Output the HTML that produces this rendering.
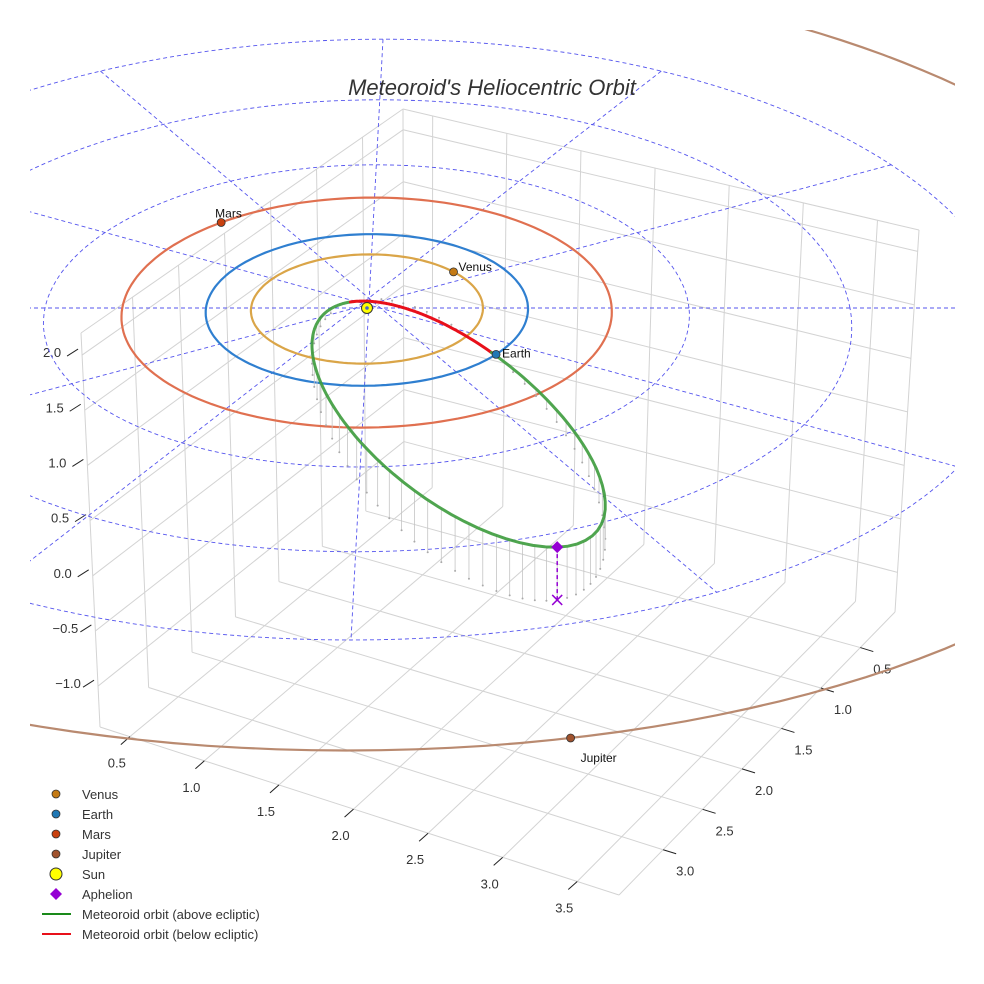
<!DOCTYPE html>
<html><head><meta charset="utf-8"><style>
html,body{margin:0;padding:0;background:#fff;}
svg{display:block;font-family:"Liberation Sans",sans-serif;}
</style></head><body>
<svg id="chart" width="984" height="984" viewBox="0 0 984 984">
<defs><clipPath id="clip"><rect x="30" y="30" width="925" height="954"/></clipPath></defs>
<g id="grid"></g>
<g id="ticks"></g>
<g id="plot" clip-path="url(#clip)"></g>
<text x="492" y="95" text-anchor="middle" font-size="22" font-style="italic" fill="#333">Meteoroid's Heliocentric Orbit</text>
<g id="legend"></g>
</svg>
<script>
// ---- data ----
const xTicks = [0.5, 1.0, 1.5, 2.0, 2.5, 3.0, 3.5];
const yTicks = [0.5, 1.0, 1.5, 2.0, 2.5, 3.0];
const zTicks = [-1.0, -0.5, 0.0, 0.5, 1.0, 1.5, 2.0];
const gridRadii = [1, 2, 3, 4];
const radialAngles = [0, 30, 60, 90, 120, 150];
const planetNames = ["Venus", "Earth", "Mars", "Jupiter"];
const planetRadii = [0.72, 1.0, 1.52, 5.2];
const planetAngles = [42, -37, 130, -77];
const meteoroidPerihelion = [0.12];
const meteoroidAphelion = [3.75];
const orbitPdir = [-0.299, 0.947, -0.128];
const orbitQdir = [0.948, 0.276, -0.170];

const NS = "http://www.w3.org/2000/svg";
function mk(tag, attrs, parent){const e=document.createElementNS(NS,tag);for(const k in attrs)e.setAttribute(k,attrs[k]);if(parent)parent.appendChild(e);return e;}
const gridG=document.getElementById('grid'), tickG=document.getElementById('ticks'), plot=document.getElementById('plot'), legG=document.getElementById('legend');

// ---- box axes (trilinear) ----
const xmin=0.3,xmax=3.78,ymin=0.06,ymax=3.56,zmin=-1.37,zmax=2.2;
const Bf=[404,480],Rf=[895,612],Lf=[100,727],Ff=[619,895];
const Bt=[403,109],Rt=[919,230],Lt=[81,333],Ft=[597,454];
function bil(c00,c10,c01,c11,u,v,i){return c00[i]*(1-u)*(1-v)+c10[i]*u*(1-v)+c01[i]*(1-u)*v+c11[i]*u*v;}
function G(x,y,z){const u=(x-xmin)/(xmax-xmin),v=(y-ymin)/(ymax-ymin),w=(z-zmin)/(zmax-zmin);
 const f=[bil(Bf,Rf,Lf,Ff,u,v,0),bil(Bf,Rf,Lf,Ff,u,v,1)], t=[bil(Bt,Rt,Lt,Ft,u,v,0),bil(Bt,Rt,Lt,Ft,u,v,1)];
 return [f[0]+(t[0]-f[0])*w,f[1]+(t[1]-f[1])*w];}
function gl(a,b,name){const l=mk('line',{x1:a[0],y1:a[1],x2:b[0],y2:b[1],stroke:'#d3d3d3','stroke-width':1},gridG);
 
 }
xTicks.forEach(x=>{gl(G(x,ymin,zmin),G(x,ymax,zmin),'floor-gridline-x');gl(G(x,ymin,zmin),G(x,ymin,zmax),'wall-gridline-x');});
yTicks.forEach(y=>{gl(G(xmin,y,zmin),G(xmax,y,zmin),'floor-gridline-y');gl(G(xmin,y,zmin),G(xmin,y,zmax),'wall-gridline-y');});
zTicks.forEach(z=>{gl(G(xmin,ymin,z),G(xmin,ymax,z),'wall-gridline-z');gl(G(xmin,ymin,z),G(xmax,ymin,z),'wall-gridline-z');});
[[G(xmin,ymax,zmin),G(xmax,ymax,zmin)],[G(xmax,ymax,zmin),G(xmax,ymin,zmin)],[G(xmin,ymin,zmin),G(xmin,ymin,zmax)],
 [G(xmin,ymax,zmin),G(xmin,ymax,zmax)],[G(xmax,ymin,zmin),G(xmax,ymin,zmax)],[G(xmin,ymin,zmax),G(xmin,ymax,zmax)],[G(xmin,ymin,zmax),G(xmax,ymin,zmax)]]
 .forEach(p=>gl(p[0],p[1],'box-edge'));

function tk(p,dx1,dy1,dx2,dy2,lx,ly,txt,name){
 const l=mk('line',{x1:p[0]+dx1,y1:p[1]+dy1,x2:p[0]+dx2,y2:p[1]+dy2,stroke:'#222','stroke-width':1},tickG);
 
 
 const t=mk('text',{x:p[0]+lx,y:p[1]+ly,'text-anchor':'middle','font-size':13,fill:'#333'},tickG);
 t.textContent=txt;
 
 }
xTicks.forEach(x=>tk(G(x,ymax,zmin),0,0,-9,8,-13,31,x.toFixed(1),'x-axis'));
yTicks.forEach(y=>tk(G(xmax,y,zmin),0,0,13,4,22,26,y.toFixed(1),'y-axis'));
zTicks.forEach(z=>tk(G(xmin,ymax,z),-4,-6,-15,1,-30,2,(z<0?'\u2212':'')+Math.abs(z).toFixed(1),'z-axis'));

// ---- ecliptic projection ----
function P(x,y,z){const sx=161-6*y;const off=76*y+(y>0?-2.2:1.75)*y*Math.abs(y);return [367+sx*x+4*y,308-off-110*(z||0)];}
function circlePath(r){let d='';for(let a=0;a<=360;a+=2){const t=a*Math.PI/180;const p=P(r*Math.cos(t),r*Math.sin(t),0);d+=(a?'L':'M')+p[0].toFixed(1)+' '+p[1].toFixed(1);}return d;}

gridRadii.forEach(r=>{const e=mk('path',{d:circlePath(r),fill:'none',stroke:'#5555ee','stroke-width':0.9,'stroke-dasharray':'4,3'},plot);
 
 });
radialAngles.forEach(a=>{const t=a*Math.PI/180;const p1=P(4*Math.cos(t),4*Math.sin(t),0),p2=P(-4*Math.cos(t),-4*Math.sin(t),0);
 const e=mk('line',{x1:p1[0],y1:p1[1],x2:p2[0],y2:p2[1],stroke:'#5555ee','stroke-width':0.9,'stroke-dasharray':'4,3'},plot);
 
 });

const orbitColors=['#daa548','#2f7fd0','#e07050','#b98a70'];
const markColors=['#c47a14','#1f77b4','#c9410f','#a0522d'];
planetNames.forEach((n,i)=>{const e=mk('path',{d:circlePath(planetRadii[i]),fill:'none',stroke:orbitColors[i],'stroke-width':2.2},plot);
 
 });

// ---- meteoroid orbit ----
const qd=meteoroidPerihelion[0],Qd=meteoroidAphelion[0];
const ecc=(Qd-qd)/(Qd+qd), semiLat=2*qd*Qd/(Qd+qd);
function orbitPt(nuDeg){const nu=nuDeg*Math.PI/180;const r=semiLat/(1+ecc*Math.cos(nu));const c=Math.cos(nu),s=Math.sin(nu);
 return [0,1,2].map(i=>r*(c*orbitPdir[i]+s*orbitQdir[i]));}
const samples=[];for(let n=-180;n<=180;n+=1)samples.push(orbitPt(n));
// drop lines sampled uniformly in eccentric anomaly
const NDROP=70;
for(let k=0;k<NDROP;k++){const E=2*Math.PI*k/NDROP;const nu=2*Math.atan(Math.sqrt((1+ecc)/(1-ecc))*Math.tan(E/2))*180/Math.PI;
 const p=orbitPt(nu);const a=P(p[0],p[1],p[2]),b=P(p[0],p[1],0);if(Math.abs(a[1]-b[1])<3)continue;
 const e=mk('line',{x1:a[0],y1:a[1],x2:b[0],y2:b[1],stroke:'#c4c4c4','stroke-width':0.8},plot);
 
 
 const d=mk('circle',{cx:b[0],cy:b[1],r:1,fill:'#aaa'},plot);
 
 }
// segments
let seg=[],cur=null;
samples.forEach(p=>{const up=p[2]>=0;if(cur===null||cur.up!==up){if(cur)cur.pts.push(p);cur={up,pts:cur?[cur.pts[cur.pts.length-1]]:[]};seg.push(cur);}cur.pts.push(p);});
seg.forEach(sg=>{const d=sg.pts.map((p,i)=>{const s=P(p[0],p[1],p[2]);return (i?'L':'M')+s[0].toFixed(1)+' '+s[1].toFixed(1);}).join('');
 const e=mk('path',{d,fill:'none',stroke:sg.up?'#3c9b3c':'#e8101a','stroke-width':3,'stroke-linecap':'round','stroke-opacity':sg.up?0.9:1},plot);
 
 });

// aphelion
const ap=orbitPt(180),apS=P(ap[0],ap[1],ap[2]),apE=P(ap[0],ap[1],0);
const al=mk('line',{x1:apS[0],y1:apS[1],x2:apE[0],y2:apE[1],stroke:'#9400d3','stroke-width':1.5,'stroke-dasharray':'4,3'},plot);


const ax=mk('path',{d:`M${apE[0]-5} ${apE[1]-5}L${apE[0]+5} ${apE[1]+5}M${apE[0]-5} ${apE[1]+5}L${apE[0]+5} ${apE[1]-5}`,stroke:'#9400d3','stroke-width':1.5},plot);


const ad=mk('path',{d:`M${apS[0]} ${apS[1]-6}L${apS[0]+6} ${apS[1]}L${apS[0]} ${apS[1]+6}L${apS[0]-6} ${apS[1]}Z`,fill:'#9400d3'},plot);



// planets
const labOff=[[5,-1],[6,3],[-6,-5],[10,24]];
planetNames.forEach((n,i)=>{const t=planetAngles[i]*Math.PI/180;const p=P(planetRadii[i]*Math.cos(t),planetRadii[i]*Math.sin(t),0);
 const c=mk('circle',{cx:p[0],cy:p[1],r:4,fill:markColors[i],stroke:'#333','stroke-width':0.8},plot);
 
 
 const tx=mk('text',{x:p[0]+labOff[i][0],y:p[1]+labOff[i][1],'font-size':12,fill:'#111'},plot);
 tx.textContent=n;
 
 });
const sp=P(0,0,0);
const sun=mk('circle',{cx:sp[0],cy:sp[1],r:5.5,fill:'#ffff00',stroke:'#333','stroke-width':1},plot);


const sd=mk('circle',{cx:sp[0],cy:sp[1],r:1.8,fill:'#4466cc'},plot);



// legend
const legLabels=['Venus','Earth','Mars','Jupiter','Sun','Aphelion','Meteoroid orbit (above ecliptic)','Meteoroid orbit (below ecliptic)'];
const legKinds=['dot','dot','dot','dot','sun','diamond','line','line'];
const legColors=['#c47a14','#1f77b4','#c9410f','#a0522d','#ffff00','#9400d3','#1a8a1a','#e8101a'];
legLabels.forEach((lab,i)=>{const y=794+i*20;const g=mk('g',{},legG);
 
 
 const k=legKinds[i];
 if(k==='dot')mk('circle',{cx:56,cy:y,r:4,fill:legColors[i],stroke:'#333','stroke-width':0.8},g);
 else if(k==='sun')mk('circle',{cx:56,cy:y,r:6,fill:legColors[i],stroke:'#333','stroke-width':1},g);
 else if(k==='diamond')mk('path',{d:`M56 ${y-6}L62 ${y}L56 ${y+6}L50 ${y}Z`,fill:legColors[i]},g);
 else mk('line',{x1:42,y1:y,x2:71,y2:y,stroke:legColors[i],'stroke-width':2},g);
 const t=mk('text',{x:82,y:y+5,'font-size':13,fill:'#333'},g);t.textContent=lab;});
</script>
</body></html>
